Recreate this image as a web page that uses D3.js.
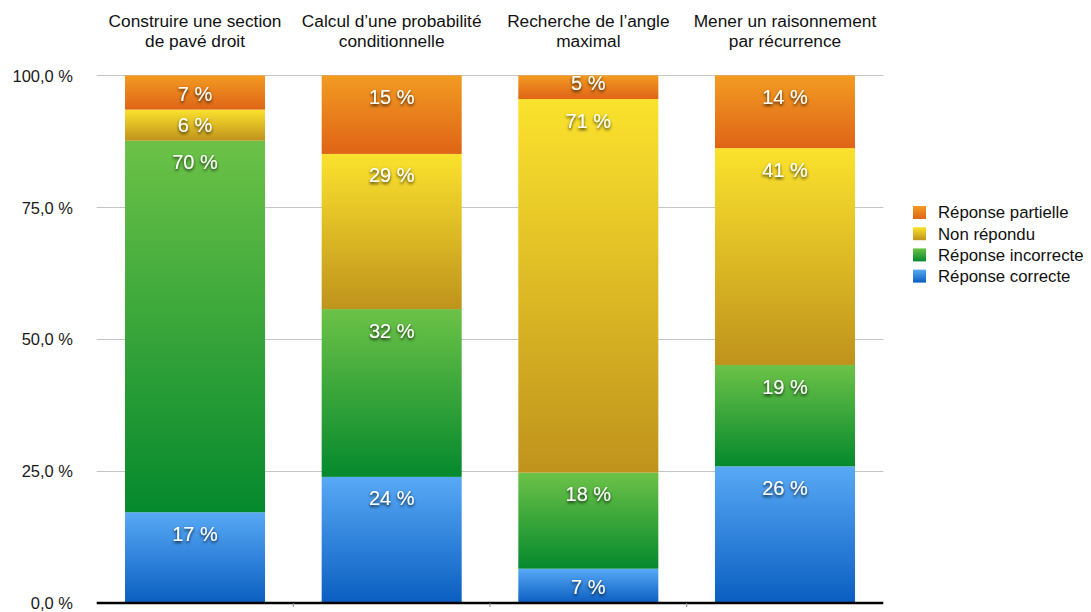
<!DOCTYPE html>
<html>
<head>
<meta charset="utf-8">
<script src="https://cdn.jsdelivr.net/npm/d3@7"></script>
<style>
  html, body { margin: 0; padding: 0; background: #fff; }
  svg { display: block; font-family: "Liberation Sans", Arial, Helvetica, sans-serif; }
</style>
</head>
<body>
<svg id="chart" width="1091" height="612"></svg>
<script>
// Question titles (two lines each)
const categories = [
  "Construire une section\nde pavé droit",
  "Calcul d’une probabilité\nconditionnelle",
  "Recherche de l’angle\nmaximal",
  "Mener un raisonnement\npar récurrence"
];

// Share of answers per question, in percent
const reponseCorrecte   = [17.2, 23.9, 6.5, 25.9];
const reponseIncorrecte = [70.4, 31.8, 18.2, 19.2];
const nonRepondu        = [5.9, 29.4, 70.8, 41.1];
const reponsePartielle  = [6.5, 14.9, 4.5, 13.8];

const seriesNames = ["Réponse correcte", "Réponse incorrecte", "Non répondu", "Réponse partielle"];
const yTicks = [0, 25, 50, 75, 100];
const yTickLabels = ["0,0 %", "25,0 %", "50,0 %", "75,0 %", "100,0 %"];

// Gradient stops (top, bottom) for each series
const palette = {
  "Réponse correcte":   ["#58a9f6", "#0a5ec0"],
  "Réponse incorrecte": ["#6cc247", "#05892d"],
  "Non répondu":        ["#fbe22d", "#bf931c"],
  "Réponse partielle":  ["#f29b22", "#df6416"]
};

const rows = categories.map((c, i) => ({
  category: c,
  "Réponse correcte": reponseCorrecte[i],
  "Réponse incorrecte": reponseIncorrecte[i],
  "Non répondu": nonRepondu[i],
  "Réponse partielle": reponsePartielle[i]
}));

const svg = d3.select("#chart");

const x = d3.scaleBand()
  .domain(categories)
  .range([96.7, 883.3])
  .paddingInner(0.288)
  .paddingOuter(0.144);

const y = d3.scaleLinear().domain([0, 100]).range([603, 75.3]);

const defs = svg.append("defs");
seriesNames.forEach((name, k) => {
  const g = defs.append("linearGradient")
    .attr("id", "grad" + k)
    .attr("x1", 0).attr("y1", 0).attr("x2", 0).attr("y2", 1);
  g.append("stop").attr("offset", "0%").attr("stop-color", palette[name][0]);
  g.append("stop").attr("offset", "100%").attr("stop-color", palette[name][1]);
});
const shadow = defs.append("filter").attr("id", "txtShadow")
  .attr("x", "-20%").attr("y", "-30%").attr("width", "140%").attr("height", "170%");
shadow.append("feDropShadow")
  .attr("dx", 0).attr("dy", 1.8).attr("stdDeviation", 1.4)
  .attr("flood-color", "#000").attr("flood-opacity", 0.8);

// Horizontal grid lines
const gridTicks = yTicks.filter(t => t > 0);
svg.append("g").selectAll("line")
  .data(gridTicks)
  .join("line")
  .attr("x1", 96.7).attr("x2", 883.3)
  .attr("y1", d => Math.round(y(d)) + 0.5)
  .attr("y2", d => Math.round(y(d)) + 0.5)
  .attr("stroke", "#c4c4c4")
  .attr("stroke-width", 1);

// Y axis labels
const yAxis = d3.axisLeft(y)
  .tickValues(yTicks)
  .tickFormat((d, i) => yTickLabels[i])
  .tickSize(0)
  .tickPadding(0);
const yG = svg.append("g").attr("transform", "translate(73,0)").call(yAxis);
yG.select(".domain").remove();
yG.selectAll("text")
  .attr("font-size", 16.5)
  .attr("fill", "#1a1a1a")
  .attr("font-family", "\"Liberation Sans\", Arial, Helvetica, sans-serif")
  .attr("dy", "0.35em");

// Stacked bars
const stack = d3.stack().keys(seriesNames);
const layers = stack(rows);

const layerG = svg.append("g").selectAll("g")
  .data(layers)
  .join("g")
  .attr("fill", (d, k) => `url(#grad${k})`);

layerG.selectAll("rect")
  .data(d => d)
  .join("rect")
  .attr("x", d => x(d.data.category))
  .attr("width", x.bandwidth())
  .attr("y", d => y(d[1]))
  .attr("height", d => y(d[0]) - y(d[1]));

// Value labels near the top of each segment
const labelG = svg.append("g").attr("filter", "url(#txtShadow)");
layers.forEach(layer => {
  layer.forEach(d => {
    const top = y(d[1]);
    const h = y(d[0]) - y(d[1]);
    const off = Math.min(21.5, h - 16);
    labelG.append("text")
      .attr("x", x(d.data.category) + x.bandwidth() / 2)
      .attr("y", top + off)
      .attr("dy", "0.35em")
      .attr("text-anchor", "middle")
      .attr("font-size", 20)
      .attr("fill", "#fff")
      .text(Math.round(d.data[layer.key]) + " %");
  });
});

// Baseline with small separators between questions
svg.append("line")
  .attr("x1", 96.7).attr("x2", 883.3)
  .attr("y1", 603).attr("y2", 603)
  .attr("stroke", "#000").attr("stroke-width", 2.6);
const bounds = categories.slice(1).map(c => x(c) - x.step() * x.paddingInner() / 2);
svg.append("g").selectAll("line")
  .data(bounds)
  .join("line")
  .attr("x1", d => d).attr("x2", d => d)
  .attr("y1", 603).attr("y2", 607)
  .attr("stroke", "#888").attr("stroke-width", 1);

// Question titles above the bars
const titleG = svg.append("g");
categories.forEach(c => {
  const t = titleG.append("text")
    .attr("x", x(c) + x.bandwidth() / 2)
    .attr("y", 27)
    .attr("text-anchor", "middle")
    .attr("font-size", 17.3)
    .attr("fill", "#111");
  c.split("\n").forEach((line, j) => {
    t.append("tspan")
      .attr("x", x(c) + x.bandwidth() / 2)
      .attr("dy", j === 0 ? 0 : 20)
      .text(line);
  });
});

// Legend
const legendOrder = seriesNames.slice().reverse();
const legend = svg.append("g").attr("transform", "translate(913,206)");
legendOrder.forEach((name, i) => {
  const k = seriesNames.indexOf(name);
  const row = legend.append("g").attr("transform", `translate(0,${i * 21.2})`);
  row.append("rect")
    .attr("width", 13).attr("height", 13)
    .attr("fill", `url(#grad${k})`);
  row.append("text")
    .attr("x", 25).attr("y", 6.5)
    .attr("dy", "0.35em")
    .attr("font-size", 16.8)
    .attr("fill", "#111")
    .text(name);
});
</script>
</body>
</html>
